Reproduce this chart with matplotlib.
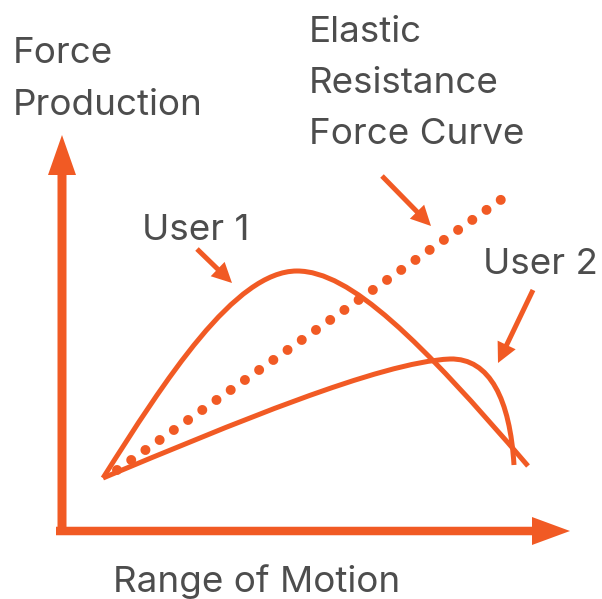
import matplotlib
matplotlib.use("Agg")
import matplotlib.pyplot as plt
from matplotlib.path import Path
from matplotlib.patches import PathPatch, FancyArrow

ORANGE = "#F15A24"
GRAY = "#4D4D4D"

# Conceptual diagram geometry (pixel-like units, y downwards)
user1_x = [103, 165, 235, 297, 350, 420, 528]
user1_y = [478, 380, 271, 271, 271, 340, 466]
user2_x = [103, 230, 380, 450, 490, 510, 514]
user2_y = [478, 425, 362, 359, 358, 400, 465]
elastic_x = [117, 502]
elastic_y = [470, 199]

labels = {
    "y_axis": ["Force", "Production"],
    "x_axis": "Range of Motion",
    "elastic": ["Elastic", "Resistance", "Force Curve"],
    "user1": "User 1",
    "user2": "User 2",
}

fig = plt.figure(figsize=(6.02, 5.99), dpi=100)
ax = fig.add_axes([0, 0, 1, 1])
ax.set_xlim(0, 602)
ax.set_ylim(599, 0)
ax.axis("off")

def bezier(xs, ys):
    verts = list(zip(xs, ys))
    codes = [Path.MOVETO] + [Path.CURVE4] * (len(verts) - 1)
    return Path(verts, codes)

ax.add_patch(PathPatch(bezier(user1_x, user1_y), fill=False, ec=ORANGE, lw=3.6, capstyle="butt"))
ax.add_patch(PathPatch(bezier(user2_x, user2_y), fill=False, ec=ORANGE, lw=3.6, capstyle="butt"))
ax.plot(elastic_x, elastic_y, color=ORANGE, lw=7.2, linestyle=(0, (0.001, 1.737)),
        dash_capstyle="round")

# Axes arrows
ax.add_patch(FancyArrow(62, 535, 0, -400, width=9, head_width=28, head_length=40,
                        length_includes_head=True, color=ORANGE, lw=0))
ax.add_patch(FancyArrow(56, 531, 514, 0, width=8.5, head_width=28, head_length=38,
                        length_includes_head=True, color=ORANGE, lw=0))

# Pointer arrows
for (x0, y0, x1, y1) in [(197, 249, 232, 283), (382, 176, 431, 226), (533, 290, 498, 363)]:
    ax.add_patch(FancyArrow(x0, y0, x1 - x0, y1 - y0, width=5, head_width=20, head_length=20,
                            length_includes_head=True, color=ORANGE, lw=0))

fp = dict(family=["Inter", "DejaVu Sans"], color=GRAY, fontsize=26.5)
for i, line in enumerate(labels["y_axis"]):
    ax.text(13, 63 + 52 * i, line, va="baseline", ha="left", **fp)
for i, line in enumerate(labels["elastic"]):
    ax.text(309, 42 + 51 * i, line, va="baseline", ha="left", **fp)
ax.text(142, 240, labels["user1"], va="baseline", ha="left", **fp)
ax.text(483, 274, labels["user2"], va="baseline", ha="left", **fp)
ax.text(113, 592, labels["x_axis"], va="baseline", ha="left", **fp)

fig.savefig("out.png", dpi=100)
